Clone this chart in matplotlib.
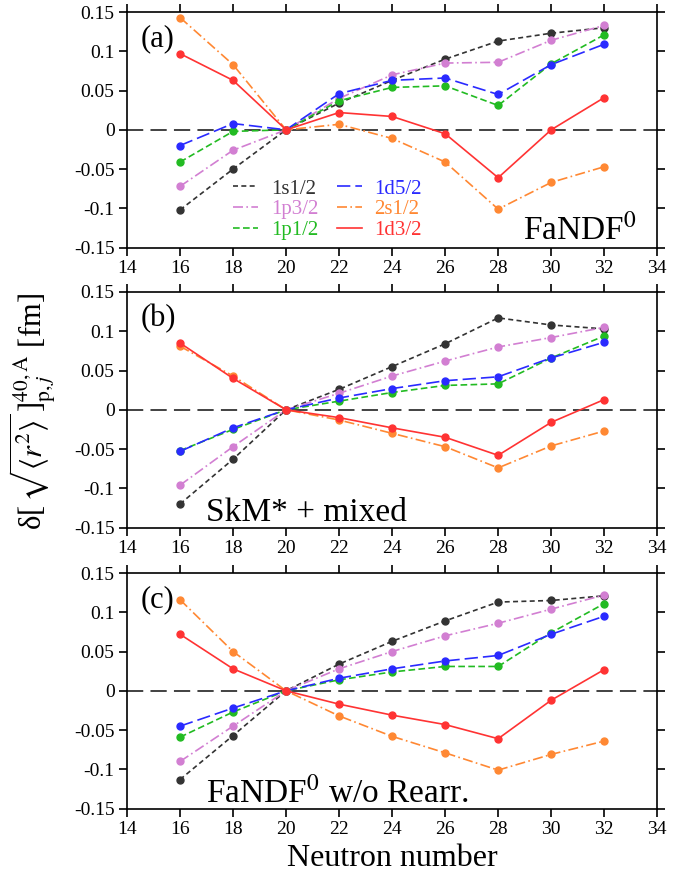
import matplotlib
matplotlib.use('Agg')
import matplotlib.pyplot as plt

plt.rcParams['font.family'] = ['Liberation Serif', 'DejaVu Serif']
plt.rcParams['mathtext.fontset'] = 'stix'

# neutron numbers
N = [16, 18, 20, 22, 24, 26, 28, 30, 32]
labels = ['1s1/2', '1p3/2', '1p1/2', '1d5/2', '2s1/2', '1d3/2']

# (a) FaNDF0
a_1s12 = [-0.102, -0.050, 0, 0.034, 0.063, 0.090, 0.113, 0.123, 0.130]
a_1p32 = [-0.072, -0.026, 0, 0.040, 0.070, 0.085, 0.086, 0.114, 0.133]
a_1p12 = [-0.041, -0.002, 0, 0.037, 0.054, 0.056, 0.031, 0.084, 0.121]
a_1d52 = [-0.020, 0.008, 0, 0.046, 0.063, 0.066, 0.045, 0.083, 0.109]
a_2s12 = [0.143, 0.083, 0, 0.007, -0.011, -0.041, -0.101, -0.067, -0.047]
a_1d32 = [0.097, 0.063, 0, 0.022, 0.017, -0.005, -0.061, 0.000, 0.041]

# (b) SkM* + mixed
b_1s12 = [-0.120, -0.063, 0, 0.026, 0.055, 0.084, 0.117, 0.108, 0.103]
b_1p32 = [-0.096, -0.047, 0, 0.021, 0.043, 0.062, 0.080, 0.092, 0.105]
b_1p12 = [-0.052, -0.025, 0, 0.011, 0.022, 0.031, 0.033, 0.066, 0.094]
b_1d52 = [-0.053, -0.023, 0, 0.015, 0.027, 0.037, 0.042, 0.066, 0.086]
b_2s12 = [0.081, 0.043, 0, -0.013, -0.030, -0.047, -0.074, -0.046, -0.027]
b_1d32 = [0.085, 0.040, 0, -0.010, -0.023, -0.035, -0.058, -0.016, 0.013]

# (c) FaNDF0 w/o Rearr.
c_1s12 = [-0.113, -0.057, 0, 0.034, 0.063, 0.089, 0.113, 0.115, 0.121]
c_1p32 = [-0.090, -0.045, 0, 0.028, 0.050, 0.070, 0.086, 0.104, 0.122]
c_1p12 = [-0.059, -0.027, 0, 0.014, 0.024, 0.031, 0.031, 0.074, 0.111]
c_1d52 = [-0.045, -0.022, 0, 0.016, 0.028, 0.038, 0.045, 0.072, 0.095]
c_2s12 = [0.116, 0.050, 0, -0.032, -0.058, -0.079, -0.101, -0.081, -0.064]
c_1d32 = [0.072, 0.028, 0, -0.017, -0.031, -0.043, -0.061, -0.012, 0.027]

panels = [
    ('(a)', 'FaNDF$^0$', [a_1s12, a_1p32, a_1p12, a_1d52, a_2s12, a_1d32]),
    ('(b)', 'SkM* + mixed', [b_1s12, b_1p32, b_1p12, b_1d52, b_2s12, b_1d32]),
    ('(c)', 'FaNDF$^0$ w/o Rearr.', [c_1s12, c_1p32, c_1p12, c_1d52, c_2s12, c_1d32]),
]

colors = ['#333333', '#d27fd2', '#22bb22', '#2a2aff', '#ff8833', '#ff3333']
styles = [(0, (3, 2)), (0, (6, 2, 1, 2)), (0, (4, 2)), (0, (8, 3)), (0, (6, 2, 1, 2)), '-']

yticks = [0.15, 0.1, 0.05, 0, -0.05, -0.1, -0.15]
yticklabels = ['0.15', '0.1', '0.05', '0', '-0.05', '-0.1', '-0.15']

fig = plt.figure(figsize=(6.94, 8.84), dpi=100)
tops = [0.9864, 0.6697, 0.3518]
h = 0.2665

for i, (tag, name, series) in enumerate(panels):
    ax = fig.add_axes([0.183, tops[i] - h, 0.764, h])
    ax.axhline(0, color='#333333', lw=1.3, ls=(0, (9, 4)), zorder=1)
    for y, lab, col, ls in zip(series, labels, colors, styles):
        ax.plot(N, y, color=col, ls=ls, lw=1.2, marker='o', ms=5, label=lab, zorder=3)
    ax.set_xlim(14, 34)
    ax.set_ylim(-0.15, 0.15)
    ax.set_xticks(range(14, 35, 2))
    ax.set_yticks(yticks)
    ax.set_yticklabels(yticklabels)
    ax.tick_params(direction='out', top=True, right=True, labelsize=14, length=6, width=1.2, pad=3)
    for s in ax.spines.values():
        s.set_linewidth(1.2)
    ax.text(0.026, 0.95, tag, transform=ax.transAxes, ha='left', va='top', fontsize=22)
    if i == 0:
        ax.text(0.962, 0.034, name, transform=ax.transAxes, ha='right', va='baseline', fontsize=24)
        ax.legend(loc='upper left', bbox_to_anchor=(0.165, 0.37), ncol=2, frameon=False,
                  fontsize=15, labelcolor='linecolor', handlelength=1.2, handletextpad=0.6,
                  columnspacing=0.9, labelspacing=0.05, markerscale=0)
    else:
        ax.text(0.149, 0.028, name, transform=ax.transAxes, ha='left', va='baseline', fontsize=24)
    if i == 2:
        ax.set_xlabel('Neutron number', fontsize=23, labelpad=4)

fig.text(0.048, 0.534, r'δ[$\,\sqrt{\langle r^2\rangle}\,$]$^{40,\mathrm{A}}_{\mathrm{p},j}$ [fm]',
         rotation=90, ha='center', va='center', fontsize=22)

fig.savefig('out.png', dpi=100)
